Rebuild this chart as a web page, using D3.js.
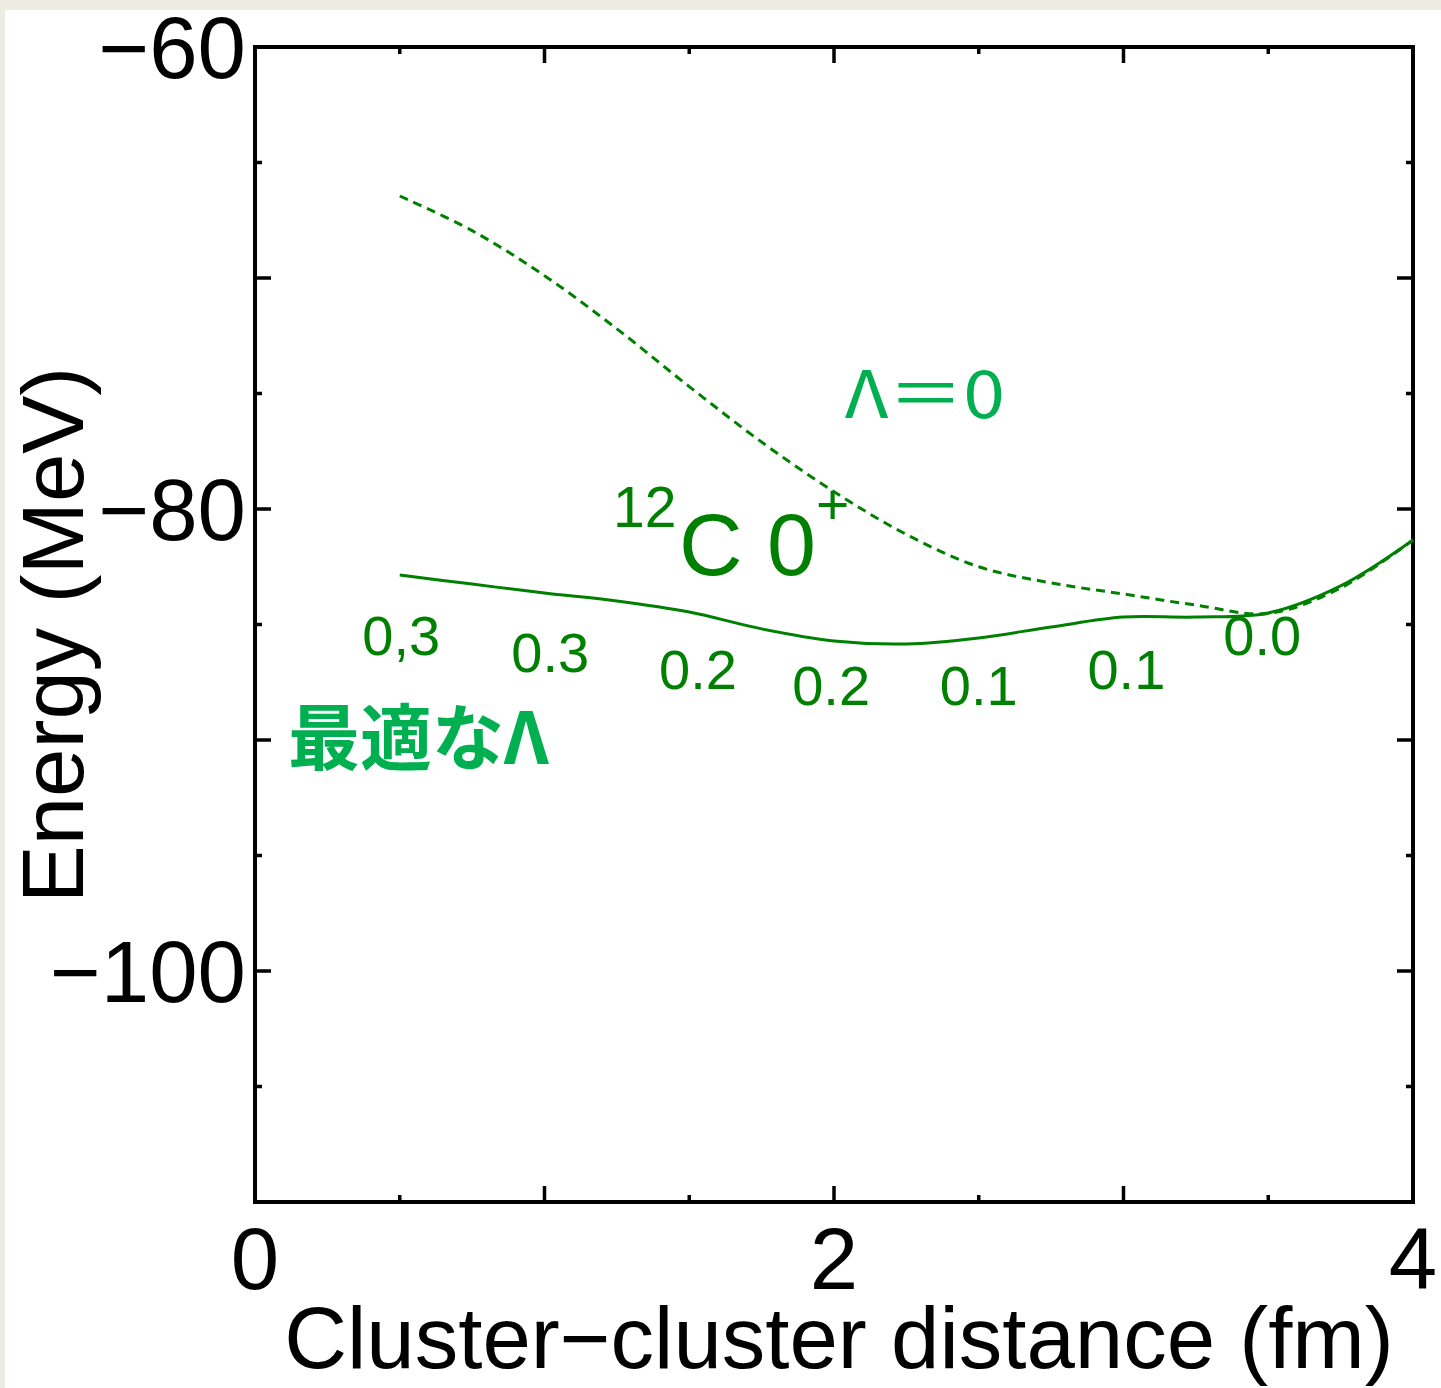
<!DOCTYPE html>
<html><head><meta charset="utf-8">
<script src="https://cdn.jsdelivr.net/npm/d3@7"></script>
<style>
html,body{margin:0;padding:0;background:#eeebe3;}
svg{display:block;}
</style></head>
<body>
<svg id="chart" width="1441" height="1388"></svg>
<script>
// ---- data ----
const distance = [0.5, 0.75, 1.0, 1.25, 1.5, 1.75, 2.0, 2.25, 2.5, 2.75, 3.0, 3.25, 3.5, 3.75, 4.0];
const energyOptimal = [-82.86, -83.25, -83.64, -83.98, -84.46, -85.19, -85.71, -85.84, -85.58, -85.11, -84.68, -84.68, -84.5, -83.33, -81.34];
const energyLambda0 = [-66.45, -67.95, -69.9, -72.2, -74.7, -77.1, -79.25, -81.1, -82.5, -83.2, -83.68, -84.16, -84.52, -83.42, -81.34];
const lambdaLabels = ["0,3", "0.3", "0.2", "0.2", "0.1", "0.1", "0.0"];
const lambdaLabelX = [0.505, 1.02, 1.53, 1.99, 2.5, 3.01, 3.479];
const lambdaLabelY = [-86.3, -87.05, -87.8, -88.5, -88.5, -87.8, -86.3];
const xTickLabels = [0, 2, 4];
const xMajorTicks = [1, 2, 3];
const xMinorTicks = [0.5, 1.5, 2.5, 3.5];
const yTickLabels = [-60, -80, -100];
const yMajorTicks = [-70, -80, -90, -100];
const yMinorTicks = [-65, -75, -85, -95, -105];

// ---- setup ----
const W = 1441, H = 1388;
const L = 255, R = 1413, T = 47, B = 1202;
const svg = d3.select("#chart");
svg.append("rect").attr("x", 5).attr("y", 10).attr("width", W - 5).attr("height", H - 10).attr("fill", "#ffffff");

const x = d3.scaleLinear().domain([0, 4]).range([L, R]);
const y = d3.scaleLinear().domain([-110, -60]).range([B, T]);

const dark = "#008000", bright = "#00b050";
const font = "'Liberation Sans', Arial, sans-serif";
const cjk = "'Noto Sans CJK JP', sans-serif";

// ticks
const tk = svg.append("g").attr("stroke", "#000").attr("stroke-width", 3.5);
const majLen = 16, minLen = 7;
function xt(vals, len) {
  vals.forEach(v => {
    tk.append("line").attr("x1", x(v)).attr("x2", x(v)).attr("y1", B).attr("y2", B - len);
    tk.append("line").attr("x1", x(v)).attr("x2", x(v)).attr("y1", T).attr("y2", T + len);
  });
}
function yt(vals, len) {
  vals.forEach(v => {
    tk.append("line").attr("y1", y(v)).attr("y2", y(v)).attr("x1", L).attr("x2", L + len);
    tk.append("line").attr("y1", y(v)).attr("y2", y(v)).attr("x1", R).attr("x2", R - len);
  });
}
xt(xMajorTicks, majLen); xt(xMinorTicks, minLen);
yt(yMajorTicks, majLen); yt(yMinorTicks, minLen);

// frame
svg.append("rect").attr("x", L).attr("y", T).attr("width", R - L).attr("height", B - T)
  .attr("fill", "none").attr("stroke", "#000").attr("stroke-width", 4);

// tick labels
const fmt = v => (v < 0 ? "\u2212" + Math.abs(v) : String(v));
svg.append("g").selectAll("text").data(yTickLabels).join("text")
  .attr("x", L - 9).attr("y", d => y(d)).attr("dy", "0.36em")
  .attr("text-anchor", "end").attr("font-family", font).attr("font-size", 87)
  .attr("fill", "#000").text(fmt);
svg.append("g").selectAll("text").data(xTickLabels).join("text")
  .attr("x", d => x(d)).attr("y", 1289)
  .attr("text-anchor", "middle").attr("font-family", font).attr("font-size", 87)
  .attr("fill", "#000").text(fmt);

// axis titles
svg.append("text").attr("x", 839).attr("y", 1368).attr("text-anchor", "middle")
  .attr("font-family", font).attr("font-size", 87).attr("fill", "#000")
  .text("Cluster\u2212cluster distance (fm)");
svg.append("text").attr("transform", "translate(83,635) rotate(-90)").attr("text-anchor", "middle")
  .attr("font-family", font).attr("font-size", 87).attr("fill", "#000")
  .text("Energy (MeV)");

// curves
const line = d3.line().x(d => x(d[0])).y(d => y(d[1])).curve(d3.curveCatmullRom.alpha(0.5));
svg.append("path").datum(distance.map((d, i) => [d, energyLambda0[i]]))
  .attr("d", line).attr("fill", "none").attr("stroke", dark).attr("stroke-width", 3)
  .attr("stroke-dasharray", "9,6");
svg.append("path").datum(distance.map((d, i) => [d, energyOptimal[i]]))
  .attr("d", line).attr("fill", "none").attr("stroke", dark).attr("stroke-width", 3);

// lambda value labels
svg.append("g").selectAll("text").data(lambdaLabels).join("text")
  .attr("x", (d, i) => x(lambdaLabelX[i])).attr("y", (d, i) => y(lambdaLabelY[i]))
  .attr("text-anchor", "middle").attr("font-family", font).attr("font-size", 56)
  .attr("fill", dark).text(d => d);

// 12C 0+
const lab = svg.append("g").attr("fill", dark).attr("font-family", font);
lab.append("text").attr("x", 613).attr("y", 527).attr("font-size", 57).text("12");
lab.append("text").attr("x", 679).attr("y", 575).attr("font-size", 88).attr("xml:space", "preserve").text("C 0");
lab.append("text").attr("x", 816).attr("y", 524).attr("font-size", 57).text("+");

// annotations
svg.append("text").attr("x", 845).attr("y", 418).attr("font-family", cjk).attr("font-size", 66)
  .attr("fill", bright).attr("textLength", 160).attr("lengthAdjust", "spacingAndGlyphs").text("Λ＝0");
svg.append("text").attr("x", 288).attr("y", 764).attr("font-family", cjk).attr("font-size", 72)
  .attr("font-weight", "bold").attr("fill", bright).text("最適なΛ");
</script>
</body></html>
